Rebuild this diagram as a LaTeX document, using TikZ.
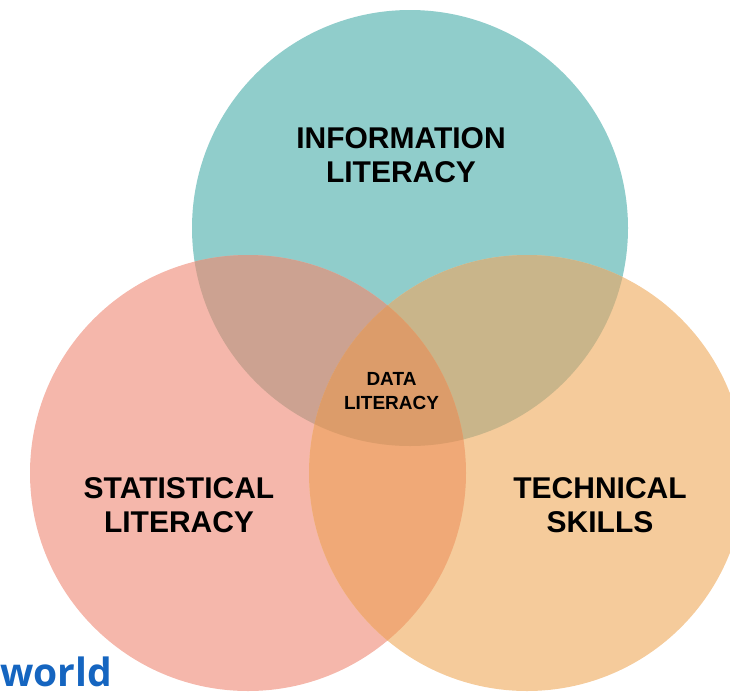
\documentclass[tikz,border=0pt]{standalone}
\usepackage{fontspec}
\setmainfont{Liberation Sans}
\newfontfamily\worldfont{Open Sans}
\definecolor{cT}{HTML}{90CDCB}
\definecolor{cP}{HTML}{F5B7AB}
\definecolor{cO}{HTML}{F5CB9B}
\definecolor{cTP}{HTML}{CCA291}
\definecolor{cTO}{HTML}{C9B58A}
\definecolor{cPO}{HTML}{F0A977}
\definecolor{cAll}{HTML}{DC9C6A}
\definecolor{cWorld}{HTML}{1565C0}
\tikzset{
  biglabel/.style={anchor=base, align=center, text=black, font=\bfseries\fontsize{30}{34}\selectfont},
  smalllabel/.style={anchor=base, align=center, text=black, font=\bfseries\fontsize{19}{24}\selectfont},
}
\begin{document}
\begin{tikzpicture}[x=1pt,y=-1pt]
\useasboundingbox (0,0) rectangle (730,691);
\clip (0,0) rectangle (730,691);
\coordinate (T) at (410,228);
\coordinate (P) at (248,473);
\coordinate (O) at (527,473);
\def\R{218pt}
\fill[cT] (T) circle (\R);
\fill[cP] (P) circle (\R);
\fill[cO] (O) circle (\R);
\begin{scope}
  \clip (T) circle (\R);
  \fill[cTP] (P) circle (\R);
  \fill[cTO] (O) circle (\R);
\end{scope}
\begin{scope}
  \clip (P) circle (\R);
  \fill[cPO] (O) circle (\R);
  \clip (T) circle (\R);
  \fill[cAll] (O) circle (\R);
\end{scope}
\node[biglabel] (info) at (401,182) {INFORMATION\\LITERACY};
\node[biglabel] (stat) at (179,532) {STATISTICAL\\LITERACY};
\node[biglabel] (tech) at (600,532) {TECHNICAL\\SKILLS};
\node[smalllabel] (data) at (391.5,409) {DATA\\LITERACY};
\node[anchor=base west, inner sep=0pt, text=cWorld, font=\worldfont\bfseries\fontsize{39}{44}\selectfont] (world) at (0,686) {world};
\end{tikzpicture}
\end{document}
